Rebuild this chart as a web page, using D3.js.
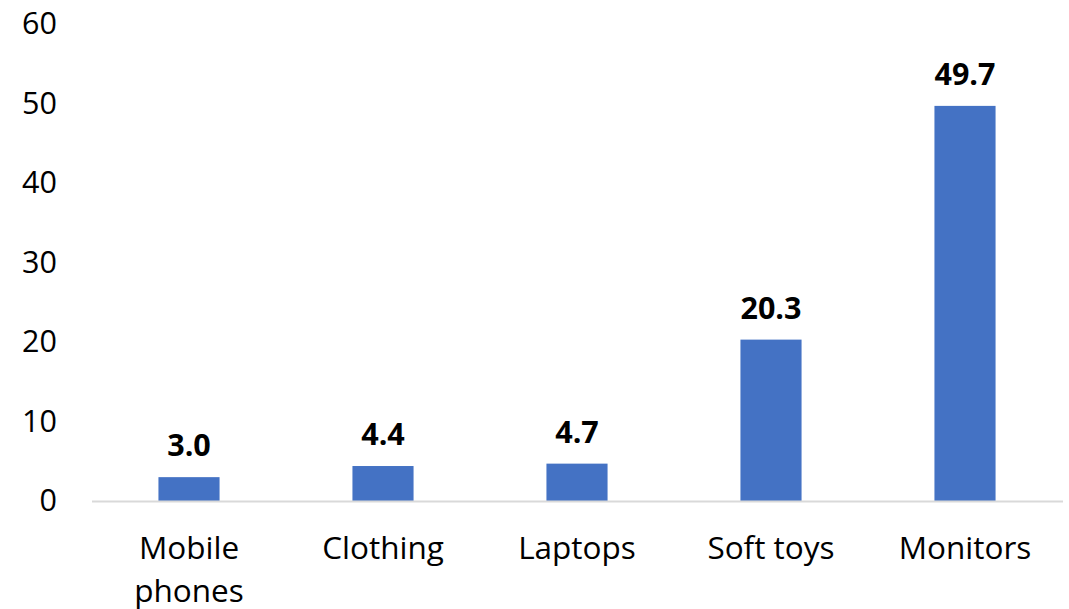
<!DOCTYPE html>
<html>
<head>
<meta charset="utf-8">
<script src="https://cdn.jsdelivr.net/npm/d3@7"></script>
<style>
  html, body { margin: 0; padding: 0; background: #fff; }
  svg { display: block; font-family: "Open Sans", sans-serif; }
</style>
</head>
<body>
<svg id="chart" width="1069" height="609"></svg>
<script>
// Product categories and their values
const categories = [["Mobile", "phones"], ["Clothing"], ["Laptops"], ["Soft toys"], ["Monitors"]];
const values = [3.0, 4.4, 4.7, 20.3, 49.7];
const yTicks = [0, 10, 20, 30, 40, 50, 60];

const svg = d3.select("#chart");
const margin = { left: 92, right: 7, top: 24, bottom: 108 };
const W = 1069, H = 609;

const keys = categories.map(c => c.join(" "));
const x = d3.scaleBand()
  .domain(keys)
  .range([margin.left, W - margin.right])
  .paddingInner(0.685)
  .paddingOuter(0.3425);

const y = d3.scaleLinear()
  .domain([0, 60])
  .range([H - margin.bottom, margin.top]);

// y-axis labels (no axis line, no ticks)
const yAxis = svg.append("g")
  .attr("transform", `translate(${margin.left},0)`)
  .call(d3.axisLeft(y).tickValues(yTicks).tickSize(0).tickPadding(35));
yAxis.select(".domain").remove();
yAxis.selectAll("text")
  .attr("font-family", "Open Sans, sans-serif")
  .attr("font-size", 30.5)
  .attr("fill", "#000");

// bars
svg.append("g").selectAll("rect")
  .data(values)
  .join("rect")
  .attr("x", (d, i) => x(keys[i]))
  .attr("width", x.bandwidth())
  .attr("y", d => y(d))
  .attr("height", d => y(0) - y(d))
  .attr("fill", "#4472C4");

// baseline
svg.append("line")
  .attr("x1", margin.left).attr("x2", W - margin.right + 1)
  .attr("y1", y(0) + 0.5).attr("y2", y(0) + 0.5)
  .attr("stroke", "#d9d9d9").attr("stroke-width", 2);

// value labels
svg.append("g").selectAll("text")
  .data(values)
  .join("text")
  .attr("x", (d, i) => x(keys[i]) + x.bandwidth() / 2)
  .attr("y", d => y(d) - 21)
  .attr("text-anchor", "middle")
  .attr("font-size", 30.5)
  .attr("font-weight", "bold")
  .attr("fill", "#000")
  .text(d => d.toFixed(1));

// category labels
const cat = svg.append("g").selectAll("text")
  .data(categories)
  .join("text")
  .attr("x", (d, i) => x(keys[i]) + x.bandwidth() / 2)
  .attr("y", 559)
  .attr("text-anchor", "middle")
  .attr("font-size", 31.5)
  .attr("fill", "#000");
cat.selectAll("tspan")
  .data(d => d)
  .join("tspan")
  .attr("x", function () { return this.parentNode.getAttribute("x"); })
  .attr("dy", (d, i) => i === 0 ? 0 : 43)
  .text(d => d);
</script>
</body>
</html>
